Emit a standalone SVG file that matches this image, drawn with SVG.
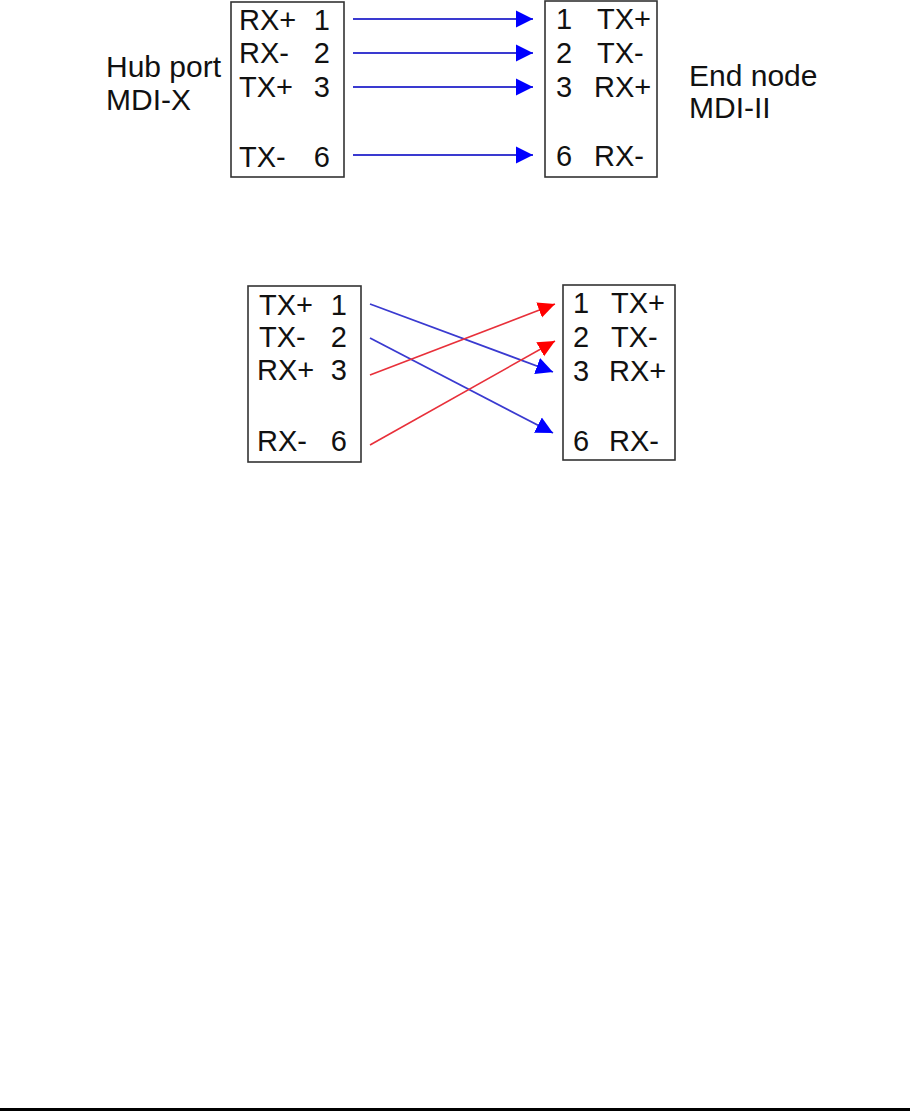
<svg xmlns="http://www.w3.org/2000/svg" width="910" height="1111" viewBox="0 0 910 1111">
<style>
text{font-family:"Liberation Sans",Arial,sans-serif;font-size:29px;fill:#111}
.box{fill:#fff;stroke:#333;stroke-width:1.6}
.lbl{font-size:30px}
.bluea{stroke:#3a3ad0;stroke-width:1.8;fill:none;marker-end:url(#ab)}
.reda{stroke:#e8303a;stroke-width:1.6;fill:none;marker-end:url(#ar)}
</style>
<defs>
<marker id="ab" markerUnits="userSpaceOnUse" markerWidth="18" markerHeight="18" refX="17" refY="9" orient="auto"><path d="M0,0.5 L17,9 L0,17.5 z" fill="#0000ff"/></marker>
<marker id="ar" markerUnits="userSpaceOnUse" markerWidth="18" markerHeight="18" refX="17" refY="9" orient="auto"><path d="M0,1 L17,9 L0,17 z" fill="#ff0000"/></marker>
</defs>
<rect width="910" height="1111" fill="#fff"/>

<g id="hub-label">
<text class="lbl" x="106" y="77">Hub port</text>
<text class="lbl" x="106" y="110">MDI-X</text>
</g>
<g id="end-label">
<text class="lbl" x="689" y="86">End node</text>
<text class="lbl" x="689" y="118">MDI-II</text>
</g>

<g id="hub-port-1">
<rect class="box" x="231" y="2" width="113" height="175"/>
<text x="239" y="30">RX+</text><text x="330" y="30" text-anchor="end">1</text>
<text x="239" y="63">RX-</text><text x="330" y="63" text-anchor="end">2</text>
<text x="239" y="97">TX+</text><text x="330" y="97" text-anchor="end">3</text>
<text x="239" y="167">TX-</text><text x="330" y="167" text-anchor="end">6</text>
</g>
<g id="end-node-1">
<rect class="box" x="545" y="1" width="112" height="176"/>
<text x="556" y="29">1</text><text x="597" y="29">TX+</text>
<text x="556" y="63">2</text><text x="597" y="63">TX-</text>
<text x="556" y="97">3</text><text x="594" y="97">RX+</text>
<text x="556" y="166">6</text><text x="594" y="166">RX-</text>
</g>

<g id="hub-port-2">
<rect class="box" x="248" y="286" width="113" height="176"/>
<text x="259" y="315">TX+</text><text x="347" y="315" text-anchor="end">1</text>
<text x="259" y="347">TX-</text><text x="347" y="347" text-anchor="end">2</text>
<text x="257" y="380">RX+</text><text x="347" y="380" text-anchor="end">3</text>
<text x="257" y="451">RX-</text><text x="347" y="451" text-anchor="end">6</text>
</g>
<g id="end-node-2">
<rect class="box" x="563" y="285" width="112" height="175"/>
<text x="573" y="313">1</text><text x="611" y="313">TX+</text>
<text x="573" y="347">2</text><text x="611" y="347">TX-</text>
<text x="573" y="381">3</text><text x="609" y="381">RX+</text>
<text x="573" y="451">6</text><text x="609" y="451">RX-</text>
</g>

<g id="connectors">
<line class="bluea" x1="353" y1="19" x2="533" y2="19"/>
<line class="bluea" x1="353" y1="53" x2="533" y2="53"/>
<line class="bluea" x1="353" y1="87" x2="533" y2="87"/>
<line class="bluea" x1="353" y1="155" x2="533" y2="155"/>
<line class="bluea" x1="370" y1="304" x2="553" y2="372"/>
<line class="bluea" x1="370" y1="338" x2="553" y2="433"/>
<line class="reda" x1="370" y1="375" x2="555" y2="304"/>
<line class="reda" x1="370" y1="445" x2="555" y2="341"/>
</g>

<rect id="bottom-rule" x="0" y="1108" width="910" height="3" fill="#000"/>
</svg>
